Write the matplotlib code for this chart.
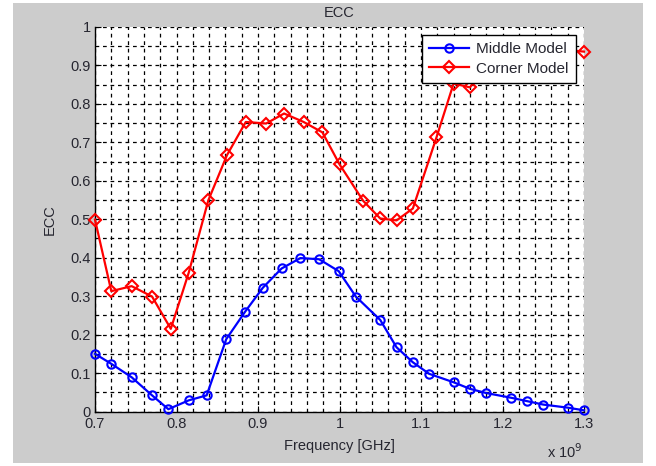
import numpy as np
import matplotlib
matplotlib.use("Agg")
import matplotlib.pyplot as plt
from matplotlib.patches import Rectangle
from matplotlib.ticker import MultipleLocator, FuncFormatter

# ECC vs frequency (GHz)
freq_middle = [0.70, 0.72, 0.745, 0.77, 0.79, 0.815, 0.837, 0.861, 0.884, 0.906,
               0.929, 0.952, 0.975, 0.999, 1.02, 1.05, 1.07, 1.09, 1.11, 1.14,
               1.16, 1.18, 1.21, 1.23, 1.25, 1.28, 1.30]
ecc_middle = [0.150, 0.124, 0.089, 0.042, 0.006, 0.029, 0.042, 0.188, 0.259, 0.322,
              0.372, 0.399, 0.396, 0.365, 0.299, 0.238, 0.167, 0.128, 0.098, 0.076,
              0.059, 0.048, 0.036, 0.027, 0.018, 0.010, 0.003]

freq_corner = [0.70, 0.72, 0.745, 0.77, 0.793, 0.815, 0.839, 0.862, 0.885, 0.91,
               0.932, 0.956, 0.979, 1.00, 1.029, 1.05, 1.07, 1.09, 1.119, 1.14,
               1.16, 1.18, 1.21, 1.23, 1.25, 1.28, 1.30]
ecc_corner = [0.499, 0.313, 0.326, 0.299, 0.215, 0.361, 0.549, 0.667, 0.753, 0.749,
              0.775, 0.753, 0.726, 0.643, 0.548, 0.502, 0.497, 0.528, 0.713, 0.853,
              0.843, 0.90, 0.93, 0.95, 0.92, 0.94, 0.936]

W, H = 656, 466
fig = plt.figure(figsize=(W / 100, H / 100), dpi=100, facecolor="white")
plt.rcParams["font.family"] = ["Liberation Sans", "DejaVu Sans"]

# grey figure panel behind the axes
fig.patches.append(Rectangle((13 / W, 3 / H), 630 / W, 460 / H,
                             transform=fig.transFigure, facecolor="#cccccc",
                             edgecolor="none", zorder=-10))

ax = fig.add_axes([95 / W, (H - 411.5) / H, 489 / W, 384.5 / H])
ax.set_zorder(1)
ax.set_facecolor("white")

hz = 1e9
ax.plot(np.array(freq_middle) * hz, ecc_middle, "-o", color="blue", lw=1.6,
        ms=6, mfc="none", mew=1.5, label="Middle Model", clip_on=False, zorder=3)
ax.plot(np.array(freq_corner) * hz, ecc_corner, "-D", color="red", lw=1.6,
        ms=6, mfc="none", mew=1.5, label="Corner Model", clip_on=False, zorder=3)

ax.set_xlim(0.7 * hz, 1.3 * hz)
ax.set_ylim(0, 1)
ax.xaxis.set_major_locator(MultipleLocator(0.1 * hz))
ax.xaxis.set_minor_locator(MultipleLocator(0.02 * hz))
ax.yaxis.set_major_locator(MultipleLocator(0.1))
ax.yaxis.set_minor_locator(MultipleLocator(0.05))
ax.xaxis.set_major_formatter(FuncFormatter(lambda v, p: "%g" % round(v / hz, 2)))
ax.yaxis.set_major_formatter(FuncFormatter(lambda v, p: "%g" % round(v, 2)))

txt = "#262630"
ax.tick_params(which="both", direction="in", colors="black", labelcolor=txt,
               labelsize=10.5, top=False, right=False)
ax.tick_params(which="major", length=4)
ax.tick_params(which="minor", length=2.5)
ax.tick_params(axis="x", pad=4)
ax.tick_params(axis="y", pad=3)

ax.grid(which="both", color="black", linestyle=(0, (3, 3)), linewidth=0.9)
ax.set_axisbelow(True)
for s in ("top", "right"):
    ax.spines[s].set_visible(False)
for s in ("left", "bottom"):
    ax.spines[s].set_linewidth(1.0)

ax.set_title("ECC", fontsize=10.5, color=txt, pad=7)
ax.set_xlabel("Frequency [GHz]", fontsize=10.5, color=txt, labelpad=6)
ax.set_ylabel("ECC", fontsize=10.5, color=txt, labelpad=10)
fig.text(565 / W, 1 - 452 / H, r"x 10$^9$", fontsize=10.5, color=txt,
         ha="center", va="center")

leg = ax.legend(loc="upper right", fontsize=11, frameon=True, fancybox=False,
                framealpha=1, edgecolor="black", borderaxespad=0.55,
                handlelength=2.6, borderpad=0.45, labelspacing=0.35,
                handletextpad=0.5)
leg.get_frame().set_linewidth(1.0)
leg.set_zorder(5)
for t in leg.get_texts():
    t.set_color(txt)

fig.savefig("out.png", dpi=100, facecolor=fig.get_facecolor())
